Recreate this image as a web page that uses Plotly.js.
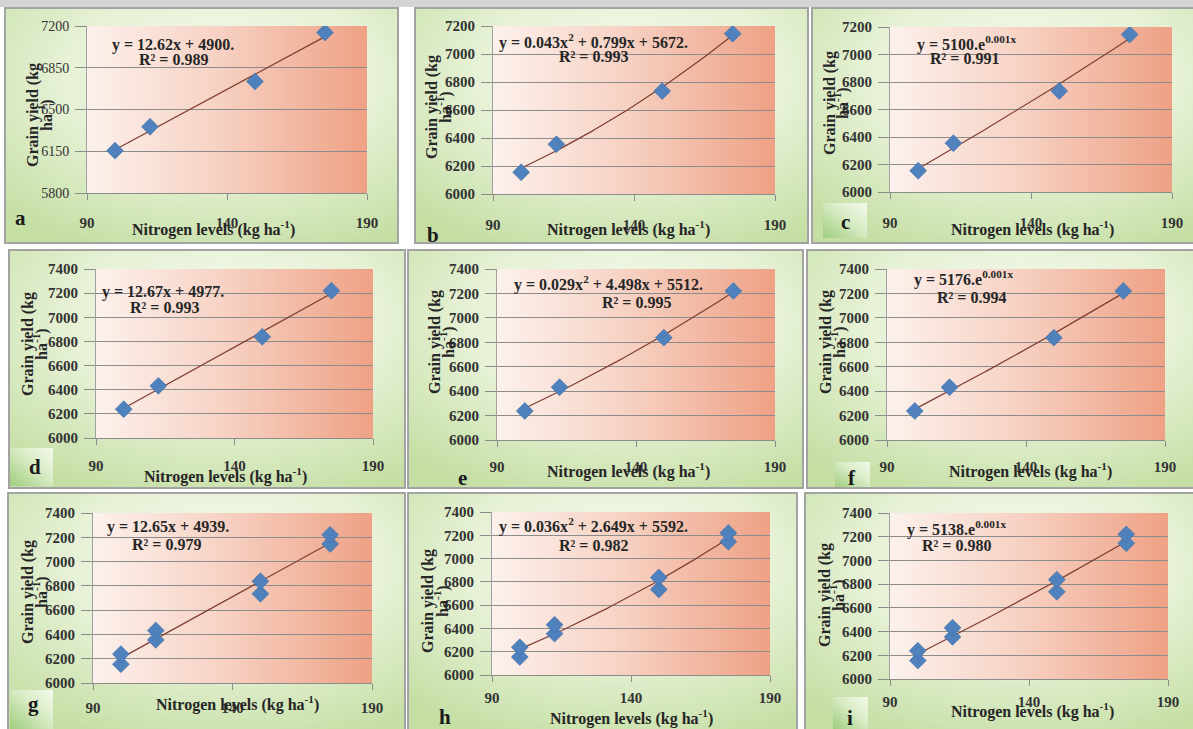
<!DOCTYPE html>
<html>
<head>
<meta charset="utf-8">
<script src="https://cdn.plot.ly/plotly-3.0.1.min.js"></script>
<style>html,body{margin:0;padding:0;background:#fff;}#chart{width:1193px;height:729px;}</style>
</head>
<body>
<div id="chart"></div>
<script>
// ---------------- DATA ----------------
const nitrogenLevels = [100, 112.5, 150, 175];           // kg N ha-1
const yieldYear1 = [6155, 6355, 6735, 7145];             // panels a, b, c
const yieldYear2 = [6238, 6432, 6838, 7220];             // panels d, e, f
const panelLetters = ['a','b','c','d','e','f','g','h','i'];
const fitTypes = ['linear','quadratic','exponential','linear','quadratic','exponential','linear','quadratic','exponential'];
const equationLabels = [
  'y = 12.62x + 4900.',
  'y = 0.043x<sup>2</sup> + 0.799x + 5672.',
  'y = 5100.e<sup>0.001x</sup>',
  'y = 12.67x + 4977.',
  'y = 0.029x<sup>2</sup> + 4.498x + 5512.',
  'y = 5176.e<sup>0.001x</sup>',
  'y = 12.65x + 4939.',
  'y = 0.036x<sup>2</sup> + 2.649x + 5592.',
  'y = 5138.e<sup>0.001x</sup>'
];
const r2Labels = ['R² = 0.989','R² = 0.993','R² = 0.991','R² = 0.993','R² = 0.995','R² = 0.994','R² = 0.979','R² = 0.982','R² = 0.980'];
const xTickVals = [90, 140, 190];
const yTicksA = [5800, 6150, 6500, 6850, 7200];
const yTicksBC = [6000, 6200, 6400, 6600, 6800, 7000, 7200];
const yTicksRest = [6000, 6200, 6400, 6600, 6800, 7000, 7200, 7400];
const xAxisTitle = 'Nitrogen levels (kg ha<sup>-1</sup>)';
const yAxisTitle1 = 'Grain yield (kg';
const yAxisTitle2 = 'ha<sup>-1</sup>)';

// pooled data for g, h, i
const pooledX = nitrogenLevels.concat(nitrogenLevels);
const pooledY = yieldYear1.concat(yieldYear2);
const panelX = [nitrogenLevels,nitrogenLevels,nitrogenLevels,nitrogenLevels,nitrogenLevels,nitrogenLevels,pooledX,pooledX,pooledX];
const panelY = [yieldYear1,yieldYear1,yieldYear1,yieldYear2,yieldYear2,yieldYear2,pooledY,pooledY,pooledY];
const panelYTicks = [yTicksA,yTicksBC,yTicksBC,yTicksRest,yTicksRest,yTicksRest,yTicksRest,yTicksRest,yTicksRest];

// ---------------- GEOMETRY (pixels) ----------------
const W = 1193, H = 729;
const geo = [
  {box:[5,8,398,243],   plot:[87,26,367,193],   yt:[33,45,115],   xt:[213,228],  xty:218, eq:[110,45],  r2:[137,60],  let:[20,218],  lbox:null, tickW:'normal'},
  {box:[415,8,808,243], plot:[493,26,775,194],  yt:[432,444,107], xt:[628,228],  xty:220, eq:[497,42],  r2:[557,57],  let:[433,235], lbox:null},
  {box:[812,8,1196,243],plot:[890,27,1172,192], yt:[830,842,103], xt:[1032,228], xty:218, eq:[915,43],  r2:[928,58],  let:[845,222], lbox:[823,203,867,238]},
  {box:[9,250,405,488], plot:[96,269,373,438],  yt:[28,40,344],   xt:[225,475],  xty:461, eq:[100,292], r2:[128,307], let:[35,467],  lbox:[10,448,53,486]},
  {box:[408,250,803,488],plot:[497,269,775,440],yt:[435,447,342], xt:[628,471],  xty:462, eq:[512,284], r2:[600,302], let:[462,478], lbox:null},
  {box:[807,250,1196,488],plot:[887,269,1165,440],yt:[826,838,342],xt:[1030,471],xty:462, eq:[912,279], r2:[935,297], let:[852,478], lbox:[835,462,870,488]},
  {box:[8,493,405,732], plot:[93,513,372,683],  yt:[28,40,592],   xt:[237,703],  xty:703, eq:[105,527], r2:[130,544], let:[33,704],  lbox:[10,690,53,729]},
  {box:[408,493,797,732],plot:[492,512,770,675],yt:[428,441,601], xt:[631,717],  xty:693, eq:[497,525], r2:[557,545], let:[445,717], lbox:null},
  {box:[805,493,1196,732],plot:[890,513,1168,679],yt:[825,837,595],xt:[1032,710], xty:697, eq:[905,528], r2:[920,545], let:[850,718], lbox:[833,697,868,729]}
];
const px = x => x / W;
const py = y => 1 - y / H;

// ---------------- FITS (least squares from the data) ----------------
function fitLinear(xs, ys){
  const n = xs.length; let sx=0, sy=0, sxx=0, sxy=0;
  for (let i=0;i<n;i++){sx+=xs[i];sy+=ys[i];sxx+=xs[i]*xs[i];sxy+=xs[i]*ys[i];}
  const b = (n*sxy - sx*sy)/(n*sxx - sx*sx); const a = (sy - b*sx)/n;
  return x => a + b*x;
}
function solve3(M, v){
  const A = M.map((r,i)=>r.concat([v[i]]));
  for (let c=0;c<3;c++){
    let p=c; for(let r=c+1;r<3;r++) if(Math.abs(A[r][c])>Math.abs(A[p][c])) p=r;
    [A[c],A[p]]=[A[p],A[c]];
    for(let r=0;r<3;r++){ if(r===c) continue; const f=A[r][c]/A[c][c]; for(let k=c;k<4;k++) A[r][k]-=f*A[c][k]; }
  }
  return [A[0][3]/A[0][0], A[1][3]/A[1][1], A[2][3]/A[2][2]];
}
function fitQuad(xs, ys){
  // centre x for numerical stability
  const m = xs.reduce((s,v)=>s+v,0)/xs.length;
  const S=[0,0,0,0,0], T=[0,0,0];
  xs.forEach((x0,i)=>{const x=x0-m; for(let k=0;k<5;k++) S[k]+=Math.pow(x,k); for(let k=0;k<3;k++) T[k]+=Math.pow(x,k)*ys[i];});
  const c = solve3([[S[0],S[1],S[2]],[S[1],S[2],S[3]],[S[2],S[3],S[4]]], T);
  return x => c[0] + c[1]*(x-m) + c[2]*(x-m)*(x-m);
}
function fitExp(xs, ys){
  const f = fitLinear(xs, ys.map(Math.log));
  return x => Math.exp(f(x));
}

// ---------------- GRADIENT IMAGES ----------------
function svgURI(s){ return 'data:image/svg+xml;charset=utf-8,' + encodeURIComponent(s); }
const panelBgSVG = svgURI('<svg xmlns="http://www.w3.org/2000/svg" width="400" height="240" viewBox="0 0 400 240" preserveAspectRatio="none"><defs><radialGradient id="g" cx="0.55" cy="0.3" r="0.8" gradientUnits="objectBoundingBox"><stop offset="0" stop-color="#f5faee"/><stop offset="0.5" stop-color="#e6f1d5"/><stop offset="1" stop-color="#c4dea3"/></radialGradient></defs><rect width="400" height="240" fill="url(#g)"/></svg>');
const plotBgSVG = svgURI('<svg xmlns="http://www.w3.org/2000/svg" width="300" height="170" viewBox="0 0 300 170" preserveAspectRatio="none"><defs><linearGradient id="p" x1="0" y1="0" x2="1" y2="0"><stop offset="0" stop-color="#fcf1ec"/><stop offset="0.45" stop-color="#f7d3c5"/><stop offset="1" stop-color="#eea185"/></linearGradient></defs><rect width="300" height="170" fill="url(#p)"/></svg>');
const letterBgSVG = svgURI('<svg xmlns="http://www.w3.org/2000/svg" width="44" height="38" viewBox="0 0 44 38" preserveAspectRatio="none"><defs><linearGradient id="l" x1="0" y1="1" x2="1" y2="0"><stop offset="0" stop-color="#9fcd7d"/><stop offset="0.6" stop-color="#dcedca"/><stop offset="1" stop-color="#f3f9ea"/></linearGradient></defs><rect width="44" height="38" fill="url(#l)"/></svg>');

// ---------------- BUILD ----------------
const fontFam = '"Liberation Serif", "Times New Roman", serif';
const traces = [];
const layout = {
  width: W, height: H,
  margin: {l:0, r:0, t:0, b:0},
  paper_bgcolor: '#ffffff',
  plot_bgcolor: 'rgba(0,0,0,0)',
  showlegend: false,
  images: [], shapes: [], annotations: []
};
// top grey strip
layout.shapes.push({type:'rect', xref:'paper', yref:'paper', x0:0, x1:1, y0:py(7), y1:1, fillcolor:'#d4d4d4', line:{width:0}, layer:'below'});

geo.forEach((g, k) => {
  const sfx = k === 0 ? '' : String(k+1);
  const xs = panelX[k], ys = panelY[k];
  const fit = fitTypes[k]==='linear' ? fitLinear(xs, ys) : fitTypes[k]==='quadratic' ? fitQuad(xs, ys) : fitExp(xs, ys);
  const xmin = Math.min(...xs), xmax = Math.max(...xs);
  const lx = [], ly = [];
  for (let i=0;i<=60;i++){ const x = xmin + (xmax-xmin)*i/60; lx.push(x); ly.push(fit(x)); }
  traces.push({type:'scatter', mode:'lines', x:lx, y:ly, xaxis:'x'+sfx, yaxis:'y'+sfx, line:{color:'#7e3d30', width:1.2}, hoverinfo:'skip'});
  traces.push({type:'scatter', mode:'markers', x:xs, y:ys, xaxis:'x'+sfx, yaxis:'y'+sfx,
    marker:{symbol:'diamond', size:13, color:'#4f81bd', line:{color:'#3f6fa8', width:0.6}}});

  const [x0,y0,x1,y1] = g.plot;
  const yt = panelYTicks[k];
  const tickW = g.tickW || 'bold';
  layout['xaxis'+sfx] = {
    domain:[px(x0), px(x1)], anchor:'y'+sfx, range:[90,190], tickvals:xTickVals, ticktext:xTickVals.map(String),
    ticks:'outside', ticklen:6, tickcolor:'#8c8c8c', showgrid:false, zeroline:false,
    showline:true, linecolor:'#8c8c8c', linewidth:1,
    ticklabelstandoff: Math.max(0, g.xty - y1 - 6 - 9),
    tickfont:{family:fontFam, size:15, color:'#333333', weight:'bold'}, fixedrange:true
  };
  layout['yaxis'+sfx] = {
    domain:[py(y1), py(y0)], anchor:'x'+sfx, range:[yt[0], yt[yt.length-1]], tickvals:yt, ticktext:yt.map(String),
    ticks:'outside', ticklen:11, tickcolor:'#8c8c8c', showgrid:true, gridcolor:'#8c8c8c', gridwidth:1, zeroline:false,
    showline:true, linecolor:'#a0a0a0', linewidth:1, ticklabelstandoff:3,
    tickfont:{family:fontFam, size: k===0 ? 14 : 15, color:'#333333', weight:tickW}, fixedrange:true
  };

  // panel background + border
  const [bx0,by0,bx1,by1] = g.box;
  layout.images.push({source:panelBgSVG, xref:'paper', yref:'paper', x:px(bx0), y:py(by0), sizex:px(bx1)-px(bx0), sizey:py(by0)-py(by1), sizing:'stretch', xanchor:'left', yanchor:'top', layer:'below'});
  layout.images.push({source:plotBgSVG, xref:'paper', yref:'paper', x:px(x0), y:py(y0), sizex:px(x1)-px(x0), sizey:py(y0)-py(y1), sizing:'stretch', xanchor:'left', yanchor:'top', layer:'below'});
  if (g.lbox){
    const [lx0,ly0,lx1,ly1] = g.lbox;
    layout.images.push({source:letterBgSVG, xref:'paper', yref:'paper', x:px(lx0), y:py(ly0), sizex:px(lx1)-px(lx0), sizey:py(ly0)-py(ly1), sizing:'stretch', xanchor:'left', yanchor:'top', layer:'below'});
  }
  layout.shapes.push({type:'rect', xref:'paper', yref:'paper', x0:px(bx0), x1:px(bx1), y0:py(by1), y1:py(by0), line:{color:'#a3a3a3', width:2}, fillcolor:'rgba(0,0,0,0)', layer:'below'});

  const annFont = (sz, col) => ({family:fontFam, size:sz, color:col||'#262626', weight:'bold'});
  // equation + R2
  layout.annotations.push({xref:'paper', yref:'paper', x:px(g.eq[0]), y:py(g.eq[1]), xanchor:'left', yanchor:'middle', showarrow:false, text:'<b>'+equationLabels[k]+'</b>', font:annFont(16)});
  layout.annotations.push({xref:'paper', yref:'paper', x:px(g.r2[0]), y:py(g.r2[1]), xanchor:'left', yanchor:'middle', showarrow:false, text:'<b>'+r2Labels[k]+'</b>', font:annFont(16)});
  // axis titles
  layout.annotations.push({xref:'paper', yref:'paper', x:px(g.xt[0]), y:py(g.xt[1]), xanchor:'center', yanchor:'middle', showarrow:false, text:'<b>'+xAxisTitle+'</b>', font:annFont(16)});
  layout.annotations.push({xref:'paper', yref:'paper', x:px(g.yt[0]), y:py(g.yt[2]), xanchor:'center', yanchor:'middle', textangle:-90, showarrow:false, text:'<b>'+yAxisTitle1+'</b>', font:annFont(16)});
  layout.annotations.push({xref:'paper', yref:'paper', x:px(g.yt[1]), y:py(g.yt[2]), xanchor:'center', yanchor:'middle', textangle:-90, showarrow:false, text:'<b>'+yAxisTitle2+'</b>', font:annFont(16)});
  // panel letter
  layout.annotations.push({xref:'paper', yref:'paper', x:px(g.let[0]), y:py(g.let[1]), xanchor:'center', yanchor:'middle', showarrow:false, text:'<b>'+panelLetters[k]+'</b>', font:annFont(21, '#1a1a1a')});
});

Plotly.newPlot('chart', traces, layout, {displayModeBar:false, staticPlot:true});
</script>
</body>
</html>
